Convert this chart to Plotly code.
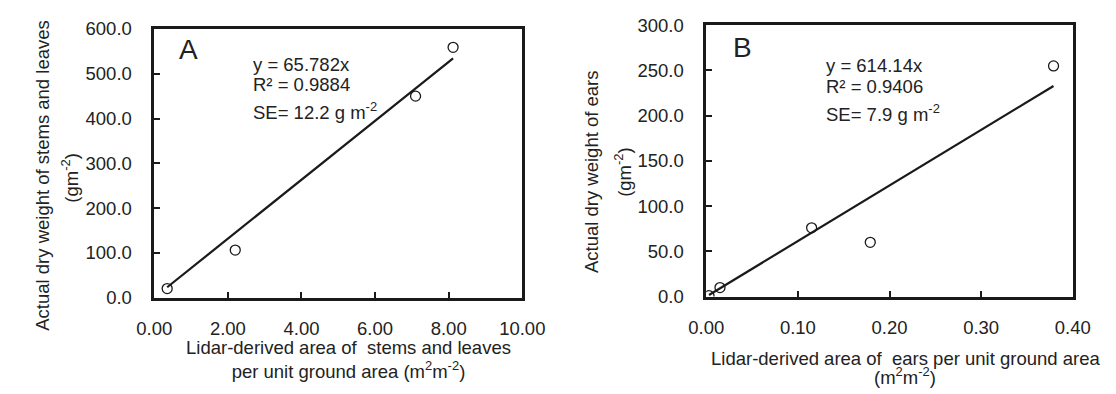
import plotly.graph_objects as go

# ---------------- data ----------------
a_x = [0.35, 2.20, 7.10, 8.12]          # lidar-derived area, stems+leaves (m2 m-2)
a_y = [20.0, 106.0, 450.0, 559.0]       # actual dry weight (g m-2)
a_slope = 65.782
a_eq = ["y = 65.782x", "R² = 0.9884", "SE= 12.2 g m<sup>-2</sup>"]

b_x = [0.003, 0.015, 0.115, 0.179, 0.379]   # lidar-derived area, ears
b_y = [1.0, 10.0, 76.0, 60.0, 255.0]
b_slope = 614.14
b_eq = ["y = 614.14x", "R² = 0.9406", "SE= 7.9 g m<sup>-2</sup>"]

a_xticks = [0, 2, 4, 6, 8, 10]
a_yticks = [0, 100, 200, 300, 400, 500, 600]
b_xticks = [0, 0.1, 0.2, 0.3, 0.4]
b_yticks = [0, 50, 100, 150, 200, 250, 300]

# ---------------- layout helpers ----------------
W, H = 1116, 394
FONT = "Liberation Sans, Arial, Helvetica, sans-serif"
FS = 18.5
TXT = "#222222"
LINE = "#1a1a1a"


def px(x):
    return x / W


def py(y):
    return 1 - y / H


fig = go.Figure()

# Panel A
fig.add_trace(go.Scatter(x=[min(a_x), max(a_x)], y=[a_slope * min(a_x), a_slope * max(a_x)],
                         mode="lines", line=dict(color=LINE, width=2.2),
                         xaxis="x", yaxis="y", showlegend=False, hoverinfo="skip"))
fig.add_trace(go.Scatter(x=a_x, y=a_y, mode="markers",
                         marker=dict(symbol="circle-open", size=10, color=LINE, line=dict(width=1.3)),
                         xaxis="x", yaxis="y", showlegend=False))
# Panel B
fig.add_trace(go.Scatter(x=[min(b_x), max(b_x)], y=[b_slope * min(b_x), b_slope * max(b_x)],
                         mode="lines", line=dict(color=LINE, width=2.2),
                         xaxis="x2", yaxis="y2", showlegend=False, hoverinfo="skip"))
fig.add_trace(go.Scatter(x=b_x, y=b_y, mode="markers",
                         marker=dict(symbol="circle-open", size=10, color=LINE, line=dict(width=1.3)),
                         xaxis="x2", yaxis="y2", showlegend=False))

axis_common = dict(showline=True, mirror=True, linecolor=LINE, linewidth=2.5,
                   ticks="inside", ticklen=6, tickwidth=2, tickcolor=LINE,
                   showgrid=False, zeroline=False,
                   tickfont=dict(family=FONT, size=FS, color=TXT))

fig.update_layout(
    width=W, height=H,
    margin=dict(l=0, r=0, t=0, b=0),
    paper_bgcolor="white", plot_bgcolor="white",
    xaxis=dict(domain=[px(141.5), px(523.5)], range=[0, 10], tickvals=a_xticks,
               tickformat=".2f", anchor="y", ticklabelstandoff=12, **axis_common),
    yaxis=dict(domain=[py(302.7), py(19)], range=[0, 600], tickvals=a_yticks,
               tickformat=".1f", anchor="x", ticklabelstandoff=16, **axis_common),
    xaxis2=dict(domain=[px(714.5), px(1095)], range=[0, 0.4], tickvals=b_xticks,
                tickformat=".2f", anchor="y2", ticklabelstandoff=12, **axis_common),
    yaxis2=dict(domain=[py(301.7), py(15)], range=[0, 300], tickvals=b_yticks,
                tickformat=".1f", anchor="x2", ticklabelstandoff=16, **axis_common),
)

ann = []


def add_text(text, x, y, size=FS, xanchor="left", angle=0):
    ann.append(dict(text=text, x=px(x), y=py(y), xref="paper", yref="paper",
                    xanchor=xanchor, yanchor="middle", showarrow=False, textangle=angle,
                    font=dict(family=FONT, size=size, color=TXT)))


# panel letters
add_text("A", 177.5, 41, size=28, xanchor="center")
add_text("B", 751.7, 39, size=28, xanchor="center")

# equations
for t, yy in zip(a_eq, [56, 78, 106]):
    add_text(t, 242, yy)
for t, yy in zip(b_eq, [58, 80, 108]):
    add_text(t, 837, yy)

# y-axis titles (rotated)
add_text("Actual dry weight of stems and leaves", 26, 174, xanchor="center", angle=-90)
add_text("(gm<sup>-2</sup>)", 54, 176, xanchor="center", angle=-90)
add_text("Actual dry weight of ears", 596, 170, xanchor="center", angle=-90)
add_text("(gm<sup>-2</sup>)", 628, 170, xanchor="center", angle=-90)

# x-axis titles
add_text("Lidar-derived area of\u00a0 stems and leaves<br>per unit ground area (m<sup>2</sup>m<sup>-2</sup>)",
         343.5, 368, xanchor="center")
add_text("Lidar-derived area of\u00a0 ears per unit ground area", 921, 367, xanchor="center")
add_text("(m<sup>2</sup>m<sup>-2</sup>)", 921, 386, xanchor="center")

fig.update_layout(annotations=ann)

fig.write_html("out.html", config={"displayModeBar": False},
               post_script="document.body.style.margin='0';")
